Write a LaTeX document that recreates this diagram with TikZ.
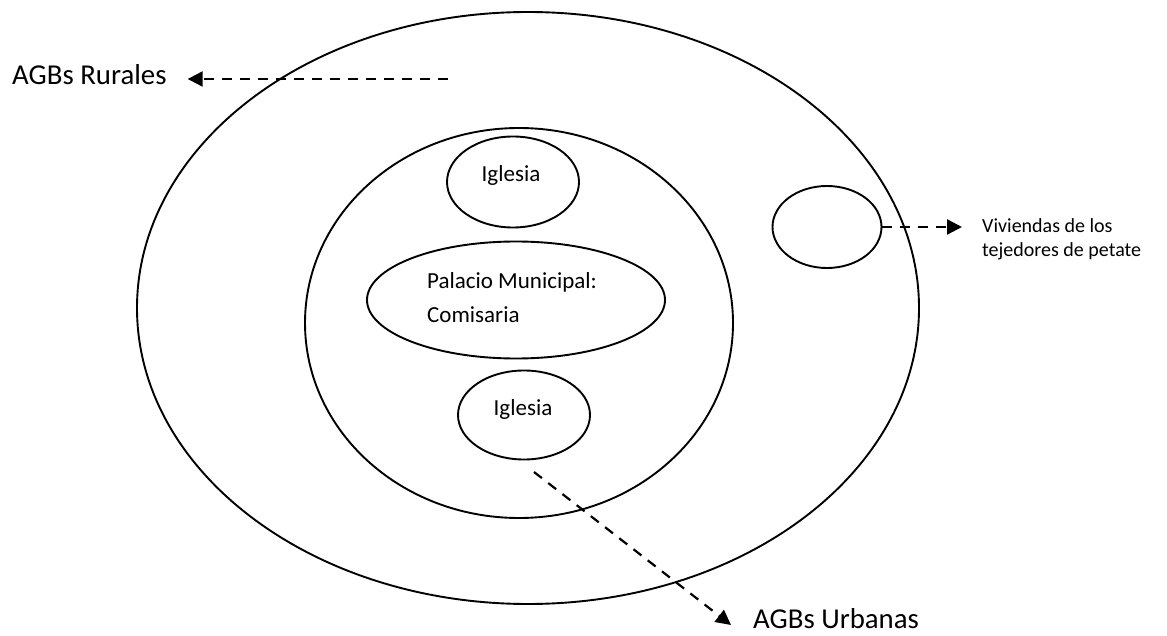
\documentclass[tikz,border=0pt]{standalone}
\usepackage{fontspec}
\setmainfont{Carlito}
\usetikzlibrary{arrows.meta,shapes.geometric}
\begin{document}
\begin{tikzpicture}[x=1pt,y=-1pt,
  ring/.style={draw, ellipse, line width=1.9pt, inner sep=0pt, outer sep=0pt},
  dasharrow/.style={line width=2.2pt, dash pattern=on 10pt off 8pt,
    -{Triangle[length=15pt,width=15pt]}},
  bigtext/.style={font=\fontsize{28.8}{34}\selectfont, inner sep=0pt, anchor=base west},
  midtext/.style={font=\fontsize{23}{34}\selectfont, inner sep=0pt},
  smalltext/.style={font=\fontsize{20}{24}\selectfont, inner sep=0pt, anchor=base west}]
\useasboundingbox (0,0) rectangle (1167,636);

% nested areas
\node[ring, minimum width=782pt, minimum height=592pt] (outer) at (528,308) {};
\node[ring, minimum width=428pt, minimum height=390pt] (inner) at (519,323) {};
\node[ring, minimum width=132pt, minimum height=91pt] (ig1) at (513,182) {};
\node[ring, minimum width=298pt, minimum height=117pt] (pal) at (516,300) {};
\node[ring, minimum width=132pt, minimum height=89pt] (ig2) at (524,415) {};
\node[ring, minimum width=109pt, minimum height=82pt] (viv) at (827,227) {};

% labels inside the areas
\node[midtext, anchor=base] (ig1t) at (511,182) {Iglesia};
\node[midtext, anchor=base west] (pal1) at (427,289) {Palacio Municipal:};
\node[midtext, anchor=base west] (pal2) at (427,323) {Comisaria};
\node[midtext, anchor=base] (ig2t) at (523,415) {Iglesia};

% outside labels
\node[bigtext] (rural) at (12,85) {AGBs Rurales};
\node[bigtext] (urban) at (753,628) {AGBs Urbanas};
\node[smalltext] (viv1) at (982,233) {Viviendas de los};
\node[smalltext] (viv2) at (982,257) {tejedores de petate};

% pointers
\coordinate (rstart) at (448,79);
\draw[dasharrow, shorten >=21pt] (rstart) -- (rstart -| rural.east);
\draw[dasharrow, shorten >=20pt] (viv.east) -- (viv.east -| viv1.west);
\coordinate (ustart) at (534,472);
\coordinate (uend) at (731,625);
\draw[dasharrow] (ustart) -- (uend);
\end{tikzpicture}
\end{document}
